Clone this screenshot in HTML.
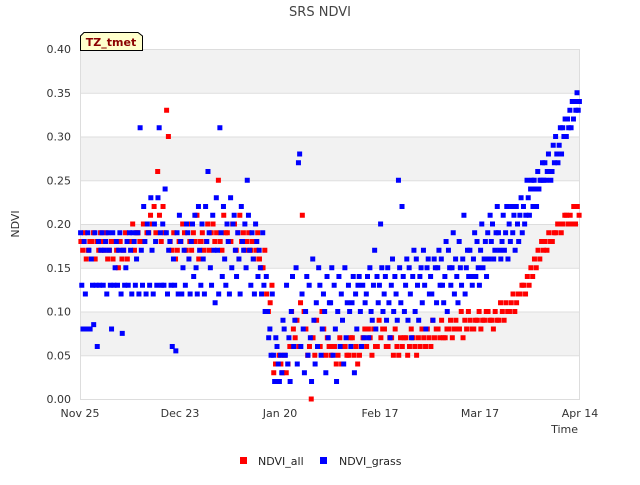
<!DOCTYPE html>
<html><head><meta charset="utf-8"><style>
body{margin:0;background:#fff;font-family:"Liberation Sans","DejaVu Sans",sans-serif}
svg text{font-family:"DejaVu Sans","Liberation Sans",sans-serif}
</style></head><body>
<svg id="chart" width="640" height="480" xmlns="http://www.w3.org/2000/svg">
<g id="bands"></g>
<g id="grid"></g>
<g id="yticks"></g>
<g id="xticks"></g>
<g id="marks"></g>
<text x="320" y="16" text-anchor="middle" font-size="13" fill="#444">SRS NDVI</text>
<text x="19" y="224" text-anchor="middle" font-size="11" fill="#333" transform="rotate(-90 19 224)">NDVI</text>
<text x="578" y="433" text-anchor="end" font-size="11" fill="#333">Time</text>
<g>
<path d="M80.5,50.5 V36 L84,32.5 H138 L142.5,36 V50.5 Z" fill="#ffffcc" stroke="#000" stroke-width="1"/>
<text x="111" y="46" text-anchor="middle" font-size="11" font-weight="bold" fill="#8b0000">TZ_tmet</text>
</g>
<g>
<g><rect x="240" y="457" width="7" height="7" fill="#ff0000"/><text x="258" y="465" font-size="11" fill="#222">NDVI_all</text></g>
<g><rect x="320" y="457" width="7" height="7" fill="#0000ff"/><text x="339" y="465" font-size="11" fill="#222">NDVI_grass</text></g>
</g>
</svg>
<script>
const yTicks=[0,0.05,0.10,0.15,0.20,0.25,0.30,0.35,0.40];
const xTickDays=[0,28,56,84,112,140];
const xTickLabels=["Nov 25","Dec 23","Jan 20","Feb 17","Mar 17","Apr 14"];
const allVals=[
[.18,.17],[.19,.16],[.17,.18],[.18,.19],[.16,.18],[.17,.19],[.18,.17],[.19,.16],[.17,.18],[.16,.18],
[.17,.15],[.18,.16],[.17,.19],[.16,.18],[.18,.20],[.17,.19],[.19,.18],[.18,.20],[.20,.19],[.19,.21],
[.20,.22],[.19,.26],[.21,.18],[.22,.19],[.33,.30],[.18,.17],[.19,.16],[.17,.18],[.18,.20],[.19,.17],
[.20,.18],[.17,.19],[.18,.21],[.16,.18],[.19,.17],[.18,.20],[.17,.19],[.20,.18],[.19,.25],[.18,.17],
[.21,.19],[.19,.18],[.18,.20],[.20,.17],[.19,.21],[.18,.19],[.17,.18],[.19,.17],[.18,.16],[.17,.19],
[.16,.15],[.15,.17],[.12,.10],[.11,.13],[.03,.04],[.02,.05],[.04,.03],[.05,.03],[.04,.06],[.10,.08],
[.07,.09],[.06,.11],[.21,.10],[.08,.05],[.06,.00],[.07,.05],[.09,.06],[.06,.10],[.08,.05],[.07,.06],
[.05,.06],[.06,.04],[.05,.07],[.04,.06],[.06,.05],[.05,.07],[.07,.05],[.06,.04],[.05,.06],[.07,.08],
[.06,.08],[.07,.05],[.08,.06],[.06,.09],[.07,.08],[.08,.06],[.06,.07],[.07,.05],[.08,.06],[.05,.07],
[.06,.07],[.07,.05],[.06,.08],[.07,.06],[.05,.07],[.06,.08],[.07,.06],[.08,.07],[.06,.09],[.07,.08],
[.08,.07],[.09,.07],[.07,.08],[.08,.09],[.07,.08],[.09,.08],[.08,.10],[.07,.09],[.08,.10],[.09,.08],
[.08,.09],[.09,.10],[.08,.09],[.09,.10],[.10,.09],[.09,.08],[.10,.09],[.09,.11],[.10,.09],[.11,.10],
[.10,.11],[.12,.10],[.11,.12],[.12,.13],[.13,.12],[.14,.13],[.15,.14],[.16,.15],[.17,.16],[.18,.17],
[.18,.17],[.19,.18],[.18,.19],[.19,.20],[.20,.19],[.20,.21],[.21,.20],[.21,.20],[.22,.20],[.22,.21]];
const grassVals=[
[.19,.13,.08],[.18,.12,.08],[.19,.17,.08],[.16,.13,.085],[.19,.13,.06],[.18,.13,.17],[.19,.13,.17],[.18,.12,.19],[.17,.13,.08],[.19,.13,.15],
[.18,.13,.17],[.19,.12,.075],[.17,.13,.15],[.18,.13,.19],[.17,.12,.19],[.18,.13,.16],[.19,.12,.31],[.17,.13,.22],[.18,.12,.20],[.19,.13,.23],
[.17,.12,.20],[.18,.13,.23],[.31,.19,.13],[.20,.13,.24],[.19,.12,.17],[.18,.13,.06],[.16,.13,.055],[.19,.12,.21],[.18,.12,.15],[.17,.13,.20],
[.19,.16,.12],[.18,.20,.14],[.21,.15,.12],[.22,.17,.13],[.20,.16,.12],[.22,.18,.26],[.19,.15,.13],[.21,.17,.11],[.23,.17,.12],[.31,.19,.14],
[.22,.16,.13],[.20,.18,.12],[.23,.15,.20],[.21,.17,.14],[.19,.16,.12],[.22,.18,.17],[.20,.15,.25],[.21,.17,.13],[.19,.16,.12],[.20,.18,.14],
[.17,.15,.12],[.19,.13,.10],[.14,.10,.07],[.08,.05,.12],[.05,.02,.07],[.06,.04,.02],[.05,.03,.09],[.08,.05,.13],[.04,.07,.02],[.10,.14,.06],
[.09,.15,.04],[.27,.28,.06],[.12,.08,.03],[.10,.14,.05],[.13,.07,.02],[.16,.09,.04],[.11,.06,.15],[.13,.05,.08],[.12,.10,.03],[.14,.07,.11],
[.11,.15,.05],[.13,.08,.02],[.10,.14,.06],[.12,.09,.04],[.15,.07,.11],[.13,.10,.06],[.11,.14,.03],[.12,.08,.13],[.14,.10,.06],[.13,.07,.11],
[.12,.14,.07],[.15,.10,.09],[.13,.17,.08],[.14,.11,.13],[.20,.15,.10],[.12,.14,.09],[.15,.11,.07],[.13,.16,.10],[.14,.12,.09],[.25,.15,.11],
[.22,.14,.10],[.13,.16,.09],[.15,.12,.07],[.14,.17,.10],[.16,.13,.09],[.14,.15,.11],[.17,.13,.08],[.15,.16,.12],[.14,.12,.09],[.16,.15,.11],
[.15,.17,.13],[.16,.13,.11],[.14,.18,.10],[.17,.15,.13],[.15,.19,.12],[.16,.14,.11],[.18,.15,.13],[.16,.21,.12],[.15,.17,.14],[.17,.14,.13],
[.16,.19,.14],[.18,.15,.13],[.17,.20,.15],[.16,.18,.14],[.19,.16,.21],[.18,.20,.16],[.17,.19,.22],[.19,.17,.16],[.18,.21,.17],[.19,.22,.16],
[.20,.18,.22],[.19,.21,.17],[.22,.20,.18],[.21,.23,.19],[.22,.20,.21],[.25,.23,.21],[.24,.25,.22],[.25,.24,.22],[.26,.24,.25],[.25,.27,.25],
[.27,.25,.26],[.28,.26,.25],[.26,.29,.27],[.30,.28,.27],[.29,.31,.28],[.31,.30,.32],[.30,.32,.31],[.33,.31,.34],[.32,.34,.33],[.35,.33,.34]];

const NS="http://www.w3.org/2000/svg";
const X0=80,X1=580,Y0=399,Y1=49,DMAX=140,VMAX=0.40;
function xs(d){return X0+(d/DMAX)*(X1-X0);}
function ys(v){return Y0-(v/VMAX)*(Y0-Y1);}
function mk(tag,attrs,parent){const e=document.createElementNS(NS,tag);for(const k in attrs)e.setAttribute(k,attrs[k]);parent.appendChild(e);return e;}
const bands=document.getElementById('bands');
let bg=mk('rect',{x:X0,y:Y1,width:X1-X0,height:Y0-Y1,fill:'#ffffff'},bands);
for(let i=0;i<yTicks.length-1;i++){
  if(i%2===1){
    const r=mk('rect',{x:X0,y:ys(yTicks[i+1]),width:X1-X0,height:ys(yTicks[i])-ys(yTicks[i+1]),fill:'#f2f2f2'},bands);
    
    
  }
}
const grid=document.getElementById('grid');
const yt=document.getElementById('yticks');
yTicks.forEach(v=>{
  const l=mk('line',{x1:X0,x2:X1,y1:ys(v)+0.5,y2:ys(v)+0.5,stroke:'#dddddd','stroke-width':1},grid);
  
  
  const t=mk('text',{x:X0-9,y:ys(v)+4,'text-anchor':'end','font-size':11,fill:'#333'},yt);
  t.textContent=v.toFixed(2);
  
  
});
mk('line',{x1:X0+0.5,x2:X0+0.5,y1:Y1,y2:Y0,stroke:'#dddddd'},grid);
mk('line',{x1:X1-0.5,x2:X1-0.5,y1:Y1,y2:Y0,stroke:'#dddddd'},grid);
const xt=document.getElementById('xticks');
xTickDays.forEach((d,i)=>{
  const t=mk('text',{x:xs(d),y:Y0+18,'text-anchor':'middle','font-size':11,fill:'#333'},xt);
  t.textContent=xTickLabels[i];
  
  
});
const marks=document.getElementById('marks');
function drawSeries(vals,color,name){
  const g=mk('g',{},marks);
  
  
  vals.forEach((arr,d)=>{
    arr.forEach((v,k)=>{
      const dd=d+(k+0.5)/arr.length;
      const r=mk('rect',{x:xs(dd)-2.5,y:ys(v)-2.5,width:5,height:5,fill:color},g);
      
      
    });
  });
}
drawSeries(allVals,'#ff0000','ndvi-all-series');
drawSeries(grassVals,'#0000ff','ndvi-grass-series');
</script>
</body></html>
